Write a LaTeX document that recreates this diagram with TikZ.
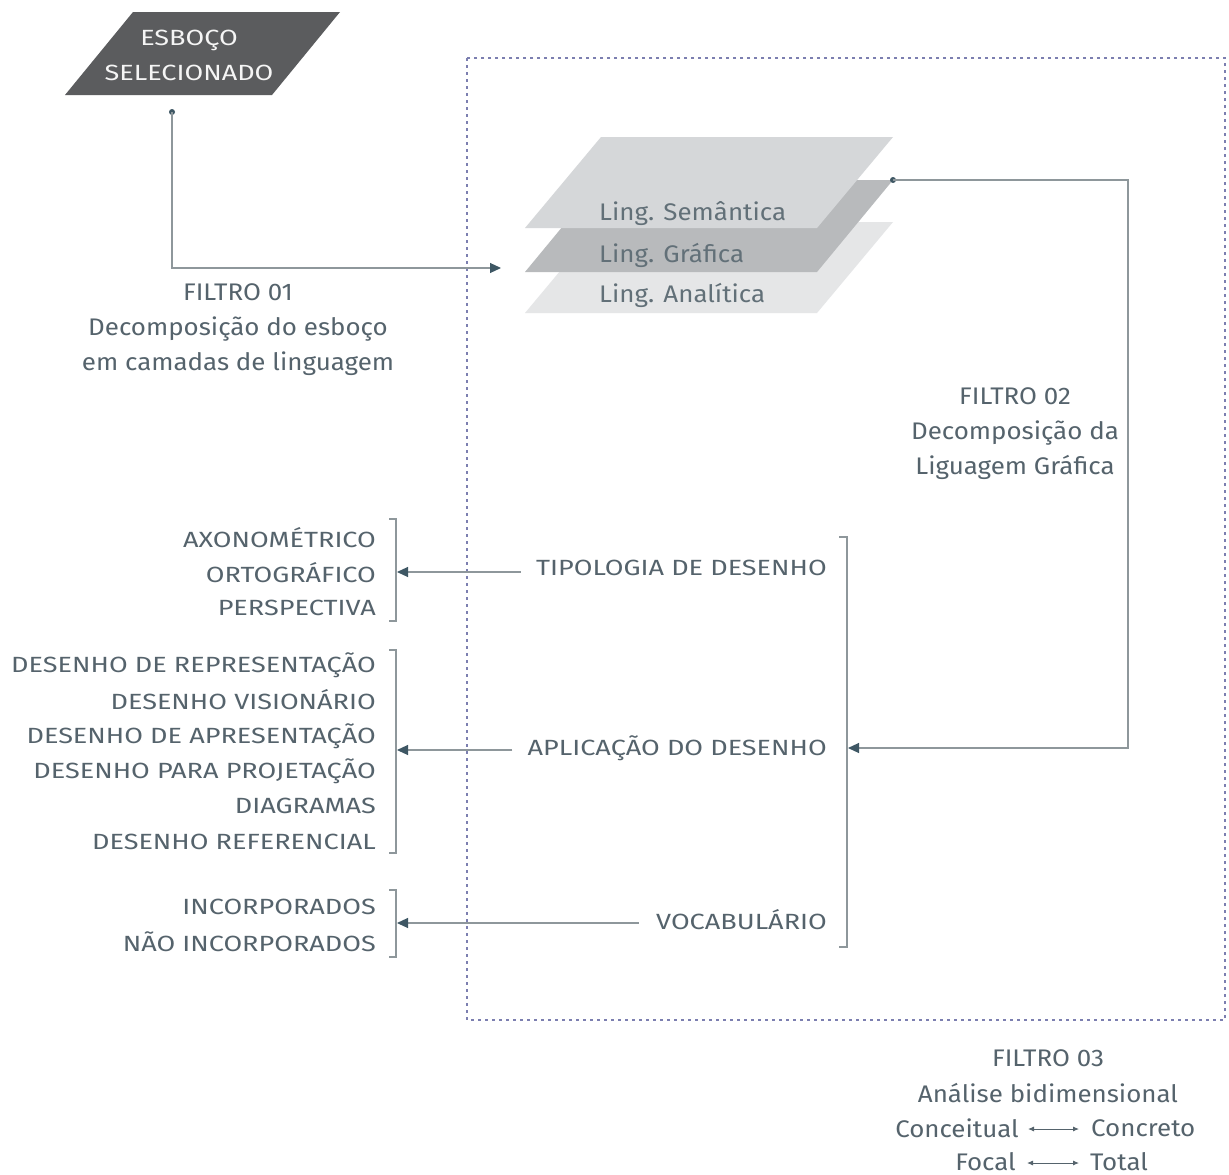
\documentclass[tikz,border=0pt]{standalone}
\usepackage{fontspec}
\setmainfont{Fira Sans}[FakeStretch=1.08]
\newfontfamily\capsfont{Fira Sans}[FakeStretch=1.23]
\usetikzlibrary{arrows.meta,calc}
\definecolor{txt}{HTML}{55636C}
\definecolor{lyr}{HTML}{627078}
\definecolor{ln}{HTML}{8E979B}
\definecolor{tipc}{HTML}{3E5764}
\definecolor{framec}{HTML}{7C7FB0}
\definecolor{sk}{HTML}{5B5C5E}
\definecolor{lA}{HTML}{D5D7D9}
\definecolor{lB}{HTML}{B8BABC}
\definecolor{lC}{HTML}{E5E6E7}
\tikzset{
  lbl/.style={text=txt, font=\capsfont\fontsize{22}{26}\selectfont, inner sep=0pt},
  big/.style={text=txt, font=\fontsize{24}{28}\selectfont, inner sep=0pt},
  lay/.style={text=lyr, font=\fontsize{24}{28}\selectfont, inner sep=0pt, anchor=west},
  conn/.style={draw=ln, line width=1.1pt},
  arr/.style={conn, -{Triangle[length=11pt,width=10pt,fill=tipc,color=tipc]}},
  brk/.style={draw=ln, line width=1.1pt},
  dotc/.style={circle, fill=tipc, inner sep=0pt, minimum size=6pt},
  twoway/.style={draw=txt, line width=0.9pt, {Latex[length=6pt,width=5pt]}-{Latex[length=6pt,width=5pt]}}
}
\begin{document}
\begin{tikzpicture}[x=1pt,y=-1pt]
\useasboundingbox[fill=white] (0,0) rectangle (1229,1175);
% dashed frame
\draw[framec, line width=1.5pt, dash pattern=on 3pt off 4pt] (467,58) rectangle (1225,1020);
% sketch parallelogram
\fill[sk] (133,12) -- (340,12) -- (272,95) -- (65,95) -- cycle;
\node[text=white!92!gray, font=\capsfont\fontsize{22}{35}\selectfont, align=center, inner sep=0pt] (sketch) at (189,55) {ESBOÇO\\SELECIONADO};
% layers
\fill[lC] (601,222) -- (893,222) -- (817,313) -- (525,313) -- cycle;
\fill[lB] (601,180) -- (893,180) -- (817,272) -- (525,272) -- cycle;
\fill[lA] (601,137) -- (893,137) -- (817,228) -- (525,228) -- cycle;
\node[lay] (sem) at (599,214) {Ling. Semântica};
\node[lay] (gra) at (599,255) {Ling. Gráfica};
\node[lay] (ana) at (599,295) {Ling. Analítica};
% filtro 01
\node[dotc] (d1) at (172,112) {};
\coordinate (lin) at (501,268);
\draw[arr] (d1.center) |- (lin);
\node[big, align=center, font=\fontsize{24}{35}\selectfont] (f1) at (238,330) {FILTRO 01\\Decomposição do esboço\\em camadas de linguagem};
% filtro 02
\node[dotc] (d2) at (893,180) {};
\coordinate (rc) at (1128,180);
\coordinate (apin) at (848,748);
\draw[arr] (d2.center) -- (rc) |- (apin);
\node[big, align=center, font=\fontsize{24}{35}\selectfont] (f2) at (1015,434) {FILTRO 02\\Decomposição da\\Liguagem Gráfica};
% right bracket
\draw[brk] (839,537) -- (847,537) -- (847,947) -- (839,947);
% middle labels
\node[lbl, anchor=east] (tipo) at (827,568) {TIPOLOGIA DE DESENHO};
\node[lbl, anchor=east] (apl) at (827,748) {APLICAÇÃO DO DESENHO};
\node[lbl, anchor=east] (voc) at (827,920) {VOCABULÁRIO};
% left brackets
\draw[brk] (389,519) -- (396,519) -- (396,621) -- (389,621);
\draw[brk] (389,650) -- (396,650) -- (396,853) -- (389,853);
\draw[brk] (389,890) -- (396,890) -- (396,957) -- (389,957);
\coordinate (t1) at (397,572);
\coordinate (t2) at (397,750);
\coordinate (t3) at (397,923);
\draw[arr] ($(tipo.west|-t1)+(-15,0)$) -- (t1);
\draw[arr] ($(apl.west|-t2)+(-15,0)$) -- (t2);
\draw[arr] ($(voc.west|-t3)+(-17,0)$) -- (t3);
% left texts
\node[lbl, anchor=east] (a1) at (376,538) {AXONOMÉTRICO};
\node[lbl, anchor=east] (a2) at (376,573) {ORTOGRÁFICO};
\node[lbl, anchor=east] (a3) at (376,608) {PERSPECTIVA};
\node[lbl, anchor=east] (b1) at (376,665) {DESENHO DE REPRESENTAÇÃO};
\node[lbl, anchor=east] (b2) at (376,700) {DESENHO VISIONÁRIO};
\node[lbl, anchor=east] (b3) at (376,736) {DESENHO DE APRESENTAÇÃO};
\node[lbl, anchor=east] (b4) at (376,771) {DESENHO PARA PROJETAÇÃO};
\node[lbl, anchor=east] (b5) at (376,806) {DIAGRAMAS};
\node[lbl, anchor=east] (b6) at (376,842) {DESENHO REFERENCIAL};
\node[lbl, anchor=east] (c1) at (376,907) {INCORPORADOS};
\node[lbl, anchor=east] (c2) at (376,942) {NÃO INCORPORADOS};
% filtro 03
\node[big] (f3a) at (1048,1058) {FILTRO 03};
\node[big] (f3b) at (1048,1093) {Análise bidimensional};
\node[big, anchor=east] (con) at (1019,1128) {Conceitual};
\node[big, anchor=west] (cre) at (1091,1128) {Concreto};
\node[big, anchor=east] (foc) at (1016,1162) {Focal};
\node[big, anchor=west] (tot) at (1090,1162) {Total};
\draw[twoway] ($(con.east)+(9,1)$) -- ($(cre.west)+(-12,1)$);
\draw[twoway] ($(foc.east)+(11,1)$) -- ($(tot.west)+(-11,1)$);
\end{tikzpicture}
\end{document}
